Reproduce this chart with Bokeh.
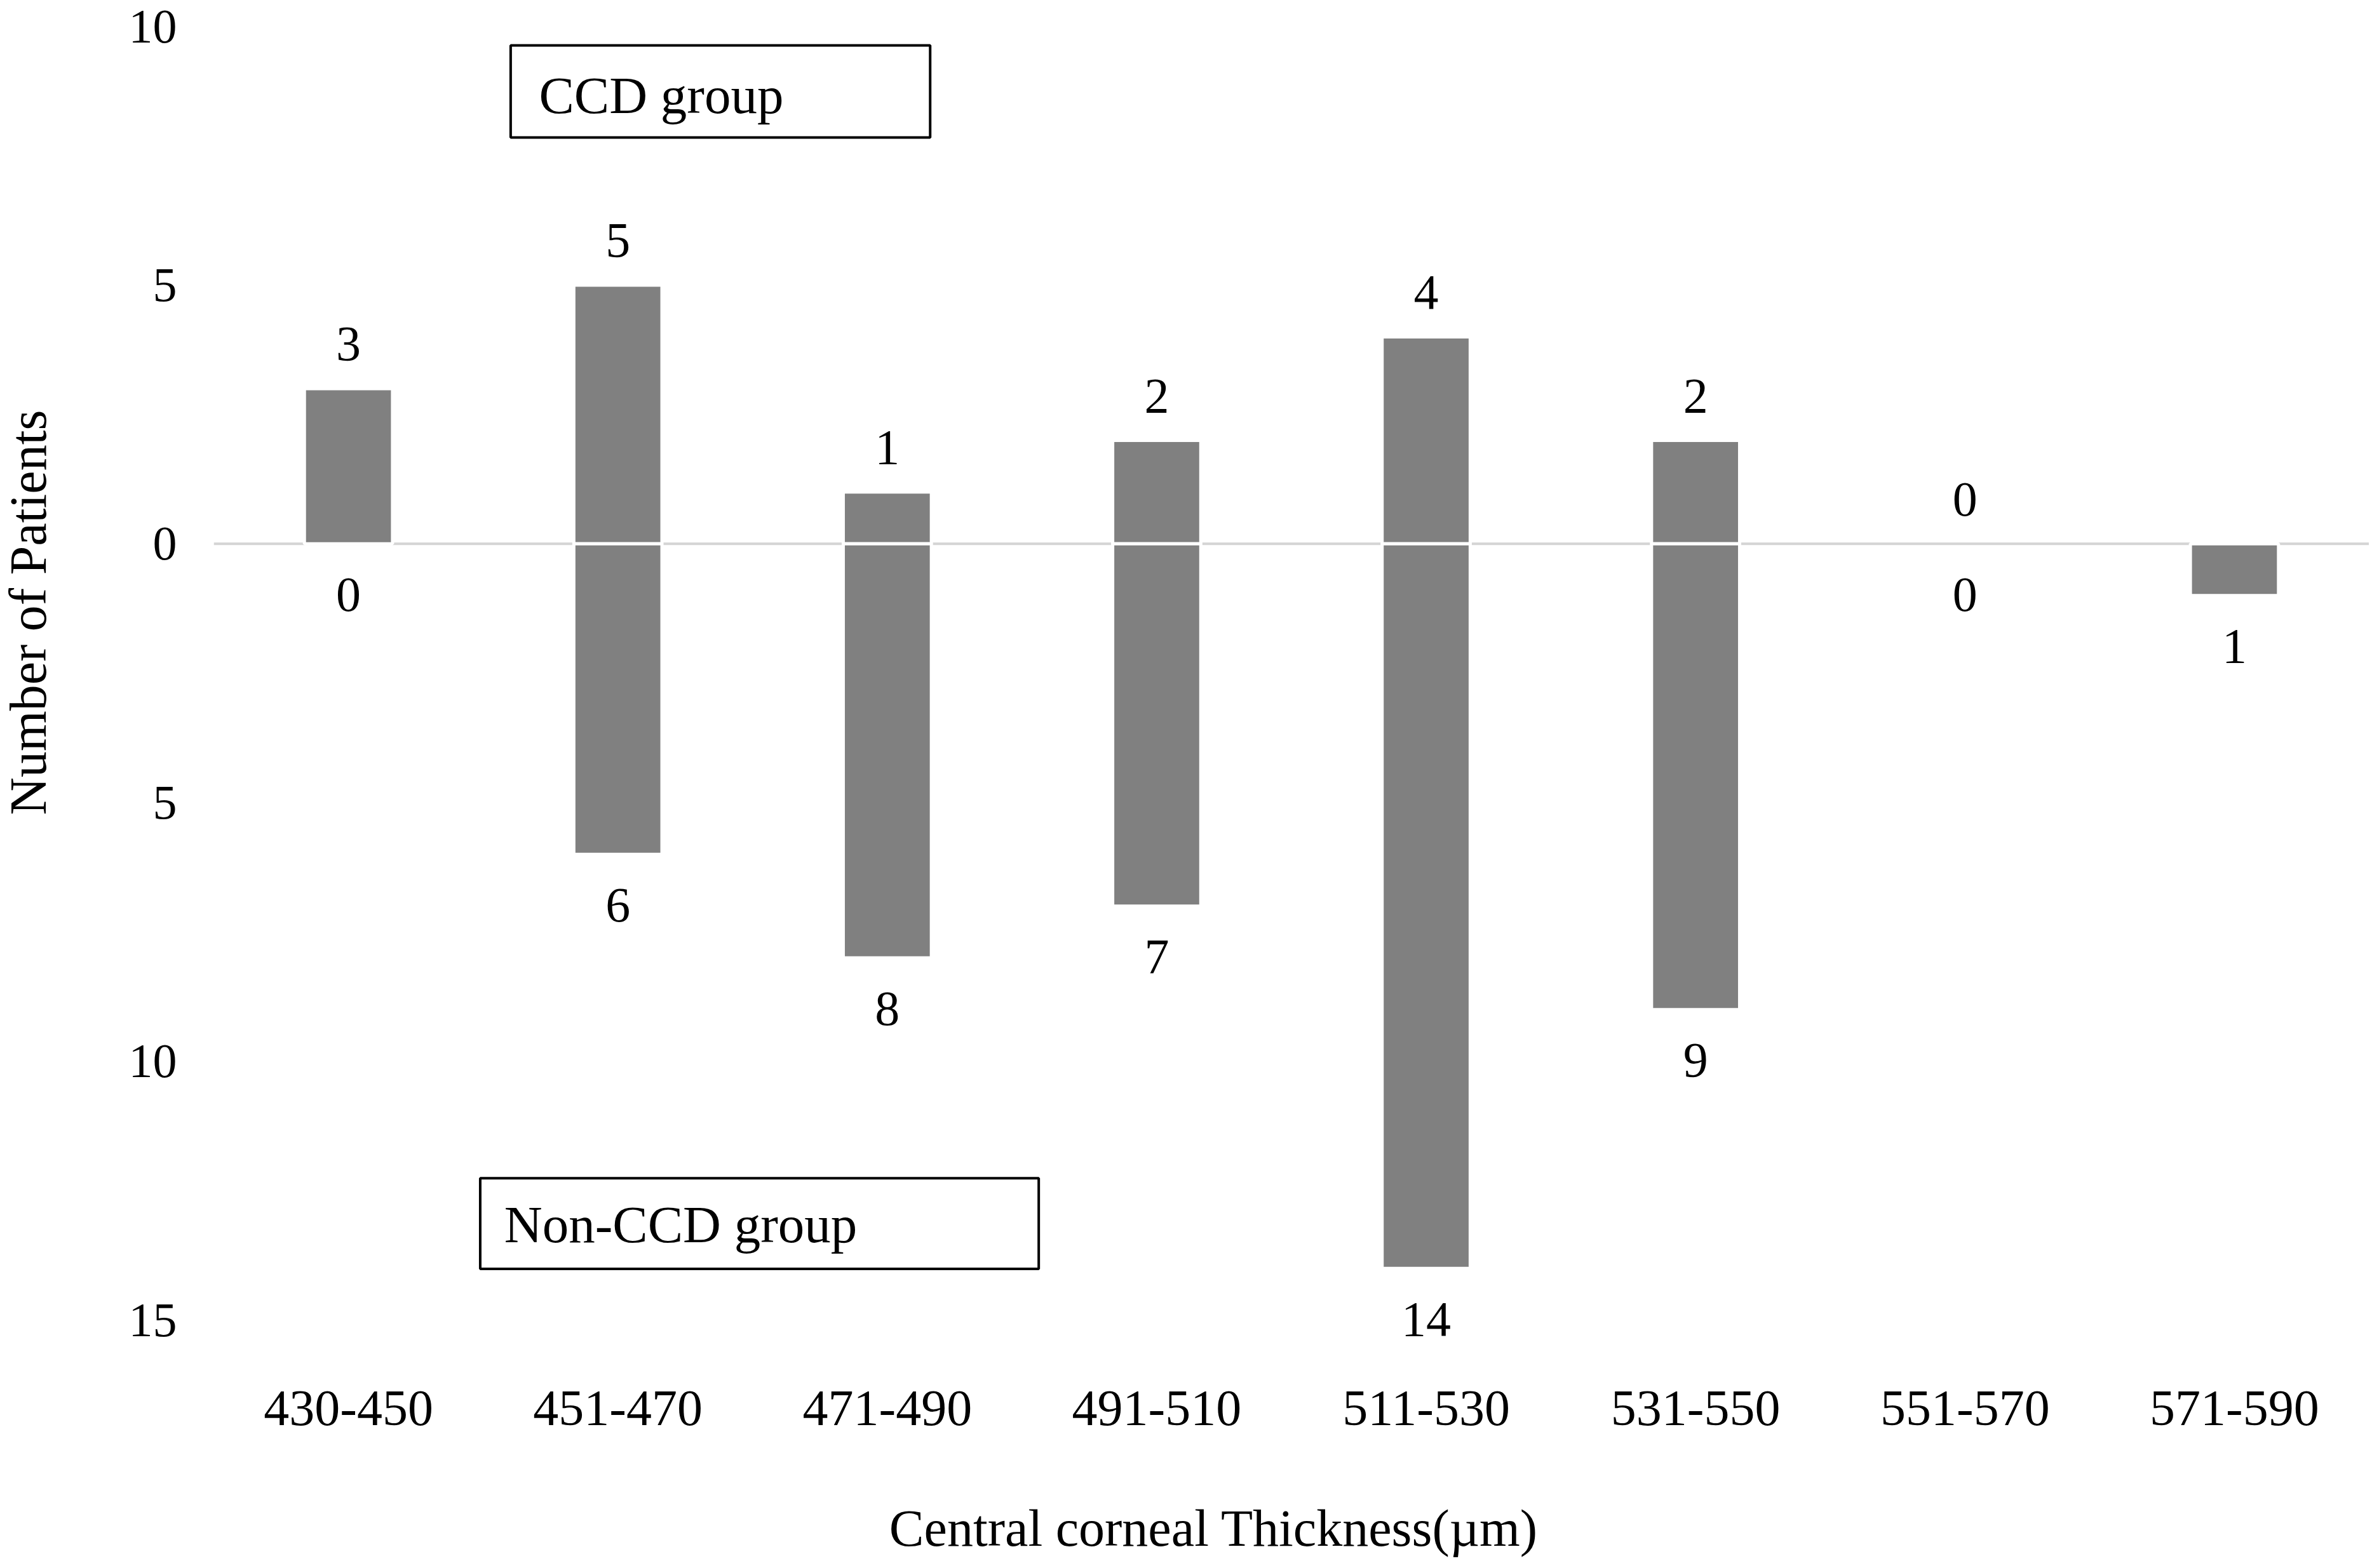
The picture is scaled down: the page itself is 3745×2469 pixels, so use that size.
import math
from bokeh.plotting import figure
from bokeh.layouts import row, column
from bokeh.models import (ColumnDataSource, FactorRange, Range1d, FixedTicker,
                          Span, BoxAnnotation, Label)
from bokeh.core.properties import value
from bokeh.embed import file_html
from bokeh.resources import INLINE

# ---- data ----
categories = ["430-450", "451-470", "471-490", "491-510",
              "511-530", "531-550", "551-570", "571-590"]
ccd_group = [3, 5, 1, 2, 4, 2, 0, 0]
non_ccd_group = [0, 6, 8, 7, 14, 9, 0, 1]
ccd_label_shown = [True, True, True, True, True, True, True, False]
y_ticks = [10, 5, 0, -5, -10, -15]
y_tick_labels = ["10", "5", "0", "5", "10", "15"]
x_title = "Central corneal Thickness(\u00b5m)"
y_title = "Number of Patients"

FONT = "Liberation Serif"
BAR = "#808080"

TOTAL_W, TOTAL_H = 3729, 2453
YW = 120            # width of the strip holding the y title
MAIN_H = 2280       # height of the main chart
XH = TOTAL_H - MAIN_H
MAIN_W = TOTAL_W - YW

p = figure(width=MAIN_W, height=MAIN_H, x_range=FactorRange(*categories),
           y_range=Range1d(-15.6, 10), output_backend="svg", toolbar_location=None,
           min_border_left=216, min_border_right=0, min_border_top=41,
           min_border_bottom=MAIN_H - 2127)
p.outline_line_color = None
p.xgrid.grid_line_color = None
p.ygrid.grid_line_color = None

zero = Span(location=0, dimension="width", line_color="#d4d4d4", line_width=4,
            level="underlay")
p.add_layout(zero)

pos = ColumnDataSource(dict(
    cat=[c for c, v in zip(categories, ccd_group) if v != 0],
    top=[v for v in ccd_group if v != 0]))
neg = ColumnDataSource(dict(
    cat=[c for c, v in zip(categories, non_ccd_group) if v != 0],
    bottom=[-v for v in non_ccd_group if v != 0]))

p.vbar(x="cat", top="top", bottom=0, width=0.327, source=pos,
       fill_color=BAR, line_color="white", line_width=5)
p.vbar(x="cat", top=0, bottom="bottom", width=0.327, source=neg,
       fill_color=BAR, line_color="white", line_width=5)

lab = ColumnDataSource(dict(
    cat=categories,
    ccd=ccd_group,
    non=[-v for v in non_ccd_group],
    ccd_txt=[str(v) if s else "" for v, s in zip(ccd_group, ccd_label_shown)],
    non_txt=[str(v) for v in non_ccd_group],
))
p.text(x="cat", y="ccd", text="ccd_txt", source=lab, y_offset=-70,
       text_align="center", text_baseline="middle", text_color="black",
       text_font=value(FONT), text_font_size="78px")
p.text(x="cat", y="non", text="non_txt", source=lab, y_offset=80,
       text_align="center", text_baseline="middle", text_color="black",
       text_font=value(FONT), text_font_size="78px")

# group boxes
p.add_layout(BoxAnnotation(left=1.102, right=2.659, top=9.632, bottom=7.853,
                           fill_color=None, fill_alpha=0, line_color="black",
                           line_alpha=1, line_width=4))
p.add_layout(Label(x=1.207, y=8.67, text="CCD group", text_font=FONT,
                   text_font_size="83px", text_baseline="alphabetic",
                   text_color="black"))
p.add_layout(BoxAnnotation(left=0.989, right=3.062, top=-12.258, bottom=-14.012,
                           fill_color=None, fill_alpha=0, line_color="black",
                           line_alpha=1, line_width=4))
p.add_layout(Label(x=1.078, y=-13.15, text="Non-CCD group", text_font=FONT,
                   text_font_size="83px", text_baseline="alphabetic",
                   text_color="black"))

# axes
xa = p.xaxis[0]
xa.axis_line_color = None
xa.major_tick_line_color = None
xa.minor_tick_line_color = None
xa.major_label_standoff = 57
xa.major_label_text_font = FONT
xa.major_label_text_font_size = "80px"
xa.major_label_text_color = "black"

ya = p.yaxis[0]
ya.ticker = FixedTicker(ticks=y_ticks)
ya.major_label_overrides = {t: l for t, l in zip(y_ticks, y_tick_labels)}
ya.axis_line_color = None
ya.major_tick_line_color = None
ya.minor_tick_line_color = None
ya.major_label_standoff = 52
ya.major_label_text_font = FONT
ya.major_label_text_font_size = "76px"
ya.major_label_text_color = "black"


def strip(w, h):
    f = figure(width=w, height=h, x_range=Range1d(0, w), y_range=Range1d(0, h),
               output_backend="svg", toolbar_location=None,
               x_axis_location=None, y_axis_location=None,
               min_border=0, min_border_left=0, min_border_right=0,
               min_border_top=0, min_border_bottom=0)
    f.outline_line_color = None
    f.xgrid.visible = False
    f.ygrid.visible = False
    return f


# y-axis title strip (pixel coordinates, y upwards)
yf = strip(YW, TOTAL_H)
yf.text(x=[44], y=[TOTAL_H - 964], text=[y_title], angle=math.pi / 2,
        text_align="center", text_baseline="middle", text_color="black",
        text_font=value(FONT), text_font_size="82px")

# x-axis title strip
xf = strip(MAIN_W, XH)
xf.text(x=[1131], y=[XH - 126], text=[x_title],
        text_align="left", text_baseline="middle", text_color="black",
        text_font=value(FONT), text_font_size="82px")

layout = row(yf, column(p, xf, spacing=0), spacing=0)

open("out.html", "w").write(file_html(layout, INLINE))
